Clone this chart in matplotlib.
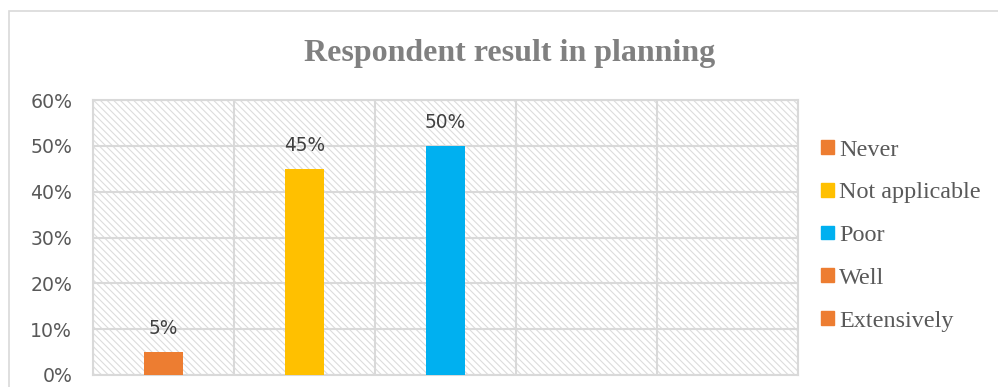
import matplotlib
matplotlib.use("Agg")
import matplotlib.pyplot as plt
from matplotlib.patches import Rectangle

categories = ["Never", "Not applicable", "Poor", "Well", "Extensively"]
shares = [0.05, 0.45, 0.50, 0.0, 0.0]
bar_colors = ["#ED7D31", "#FFC000", "#00B0F0", "#ED7D31", "#ED7D31"]
y_ticks = [0.0, 0.1, 0.2, 0.3, 0.4, 0.5, 0.6]
y_tick_labels = ["0%", "10%", "20%", "30%", "40%", "50%", "60%"]
title = "Respondent result in planning"

grid_col = "#d9d9d9"
plt.rcParams["hatch.linewidth"] = 0.8

fig = plt.figure(figsize=(9.98, 3.87), dpi=100)
fig.patch.set_facecolor("white")

# outer chart frame (runs off the right and bottom edges)
fig.patches.append(Rectangle((8.5 / 998, -0.2), 1.2, 0.2 + (387 - 11.5) / 387,
                             transform=fig.transFigure, fill=False,
                             edgecolor=grid_col, lw=1.2, zorder=0))

ax = fig.add_axes([93 / 998, 12 / 387, 705 / 998, 275 / 387])
ax.set_facecolor("white")

# hatched plot area
ax.add_patch(Rectangle((0, 0), 1, 1, transform=ax.transAxes, facecolor="white",
                       edgecolor="#dcdcdc", hatch="\\" * 5, lw=0, zorder=0))

x = range(len(categories))
bars = ax.bar(x, shares, width=0.28, color=bar_colors, zorder=3)
labels = [f"{v:.0%}" if v > 0 else "" for v in shares]
ax.bar_label(bars, labels=labels, padding=10, fontsize=13.4,
             color="#404040", family="DejaVu Sans")

ax.set_xlim(-0.5, len(categories) - 0.5)
ax.set_ylim(0, 0.6)
ax.set_yticks(y_ticks)
ax.set_yticklabels(y_tick_labels, family="DejaVu Sans", fontsize=13.6, color="#595959")
ax.set_xticks([i - 0.5 for i in range(len(categories) + 1)])
ax.set_xticklabels([])
ax.tick_params(length=0, pad=15)

ax.grid(True, color=grid_col, lw=1.5, zorder=1)
ax.set_axisbelow(True)
for s in ax.spines.values():
    s.set_color(grid_col)
    s.set_linewidth(1.5)

fig.text(510 / 998, 1 - 54 / 387, title, ha="center", va="center",
         family="Liberation Serif", fontweight="bold", fontsize=23, color="#808080")

handles = [Rectangle((0, 0), 1, 1, color=c) for c in bar_colors]
leg = fig.legend(handles, categories, loc="upper left",
                 bbox_to_anchor=(821 / 998, 1 - 139.5 / 387),
                 frameon=False, prop={"family": "Liberation Serif", "size": 17.4},
                 handlelength=0.54, handleheight=0.5, handletextpad=0.2,
                 labelspacing=0.9, borderpad=0, borderaxespad=0)
for t in leg.get_texts():
    t.set_color("#595959")

fig.savefig("out.png", dpi=100)
